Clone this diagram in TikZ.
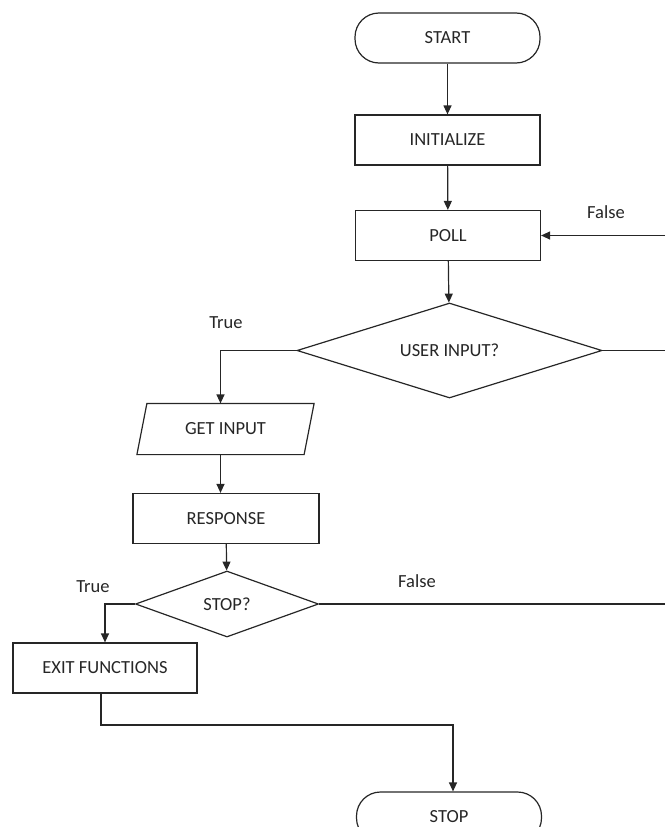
\documentclass[tikz,border=0pt]{standalone}
\usepackage{fontspec}
\setmainfont{Carlito}
\usetikzlibrary{shapes.geometric,arrows.meta}
\definecolor{ink}{HTML}{262626}
\begin{document}
\begin{tikzpicture}[x=1pt,y=-1pt,line width=1.2pt,
  every node/.style={font=\fontsize{18.5}{22}\selectfont, text=ink},
  box/.style={draw=ink, rectangle, minimum width=185pt, minimum height=50pt, inner sep=0pt},
  term/.style={draw=ink, rectangle, rounded corners=24pt, minimum width=185pt, minimum height=50pt, inner sep=0pt},
  dec/.style={draw=ink, diamond, inner sep=0pt},
  arr/.style={draw=ink, -{Triangle[width=8pt,length=9pt]}},
  ln/.style={draw=ink},
  lbl/.style={inner sep=0pt}]
\useasboundingbox (0,0) rectangle (665,827);
\clip (0,0) rectangle (665,827);
% nodes
\node[term] (start) at (447.5,38) {START};
\node[box] (init) at (447.5,140) {INITIALIZE};
\node[box] (poll) at (448,235.5) {POLL};
\node[dec, minimum width=305pt, minimum height=95pt, aspect=3] (ui) at (449.5,350.5) {USER INPUT?};
\node[minimum width=166pt, minimum height=50pt, inner sep=0pt] (gi) at (225.5,429) {GET INPUT};
\draw[ink] ([xshift=5pt]gi.north west) -- ([xshift=5pt]gi.north east) -- ([xshift=-5pt]gi.south east) -- ([xshift=-5pt]gi.south west) -- cycle;
\node[box, minimum width=186pt] (resp) at (226,518.5) {RESPONSE};
\node[dec, minimum width=183pt, minimum height=66pt, aspect=2.8] (sq) at (227,604) {STOP?};
\node[box, minimum width=184pt] (exit) at (105,668) {EXIT FUNCTIONS};
\node[term] (stop) at (449,817) {STOP};
% labels
\node[lbl] (f1) at (606,212) {False};
\node[lbl] (t1) at (226,323) {True};
\node[lbl] (t2) at (93,587) {True};
\node[lbl] (f2) at (417,581) {False};
% coordinates at the edge
\coordinate (e1) at (665,235.5);
\coordinate (e2) at (665,350.5);
\coordinate (e3) at (665,604);
\coordinate (j1) at (101,725);
% connectors
\draw[arr] (start) -- (init);
\draw[arr] (init) -- (poll);
\draw[arr] (poll) -- (ui);
\draw[arr] (e1) -- (poll);
\draw[ln] (ui.east) -- (e2);
\draw[arr] (ui.west) -| ([xshift=-5pt]gi.north);
\draw[arr] ([xshift=-5pt]gi.south) -- ([xshift=-5pt]gi.south |- resp.north);
\draw[arr] (resp) -- (sq);
\draw[arr] (sq.west) -| (exit.north);
\draw[ln] (sq.east) -- (e3);
\draw[arr] (exit.south -| j1) -- (j1) -| ([xshift=4pt]stop.north);
\end{tikzpicture}
\end{document}
